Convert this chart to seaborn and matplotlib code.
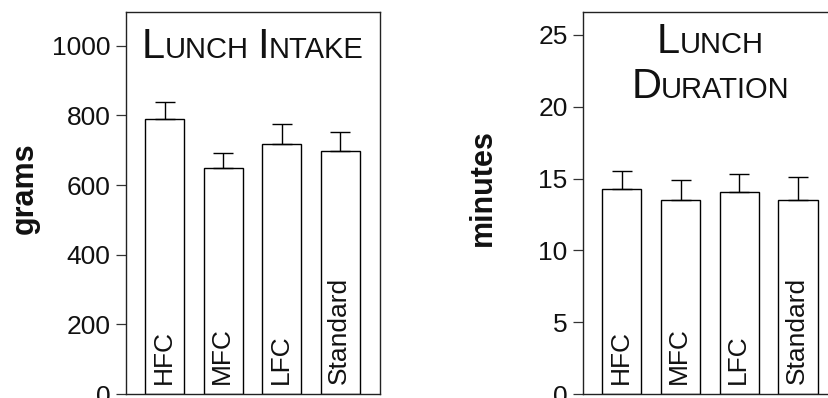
import matplotlib
matplotlib.use("Agg")
import matplotlib.pyplot as plt
import seaborn as sns
import numpy as np
from matplotlib.offsetbox import TextArea, HPacker, VPacker, DrawingArea, AnchoredOffsetbox

# Diet conditions
categories = ["HFC", "MFC", "LFC", "Standard"]

# Lunch intake (grams): mean and SEM
intake_mean = [790, 650, 718, 698]
intake_sem = [48, 42, 57, 55]

# Lunch duration (minutes): mean and SEM
duration_mean = [14.3, 13.5, 14.1, 13.5]
duration_sem = [1.2, 1.4, 1.2, 1.6]

intake_ticks = [0, 200, 400, 600, 800, 1000]
duration_ticks = [0, 5, 10, 15, 20, 25]

sns.set_theme(style="ticks")
plt.rcParams["font.family"] = ["Liberation Sans", "DejaVu Sans"]

FONT = "Liberation Sans"
W, H = 829, 398
fig = plt.figure(figsize=(W / 100, H / 100), dpi=100)
fig.patch.set_facecolor("white")


def small_caps(words, big=30, small=21, gap=6):
    """Build a baseline-aligned row of text in small capitals."""
    parts = []
    for i, w in enumerate(words):
        if i > 0:
            parts.append(DrawingArea(gap, 1))
        parts.append(TextArea(w[0], textprops=dict(fontsize=big, family=FONT, color="#111111")))
        parts.append(TextArea(w[1:], textprops=dict(fontsize=small, family=FONT, color="#111111")))
    return HPacker(children=parts, align="baseline", pad=0, sep=0)


def panel(ax, means, sems, ticks, ymax):
    sns.barplot(x=categories, y=means, color="white", edgecolor="black",
                linewidth=1.0, width=0.67, saturation=1, ax=ax, errorbar=None)
    for p in ax.patches:
        p.set_facecolor("white")
    lower = np.zeros(len(sems))
    ax.errorbar(np.arange(len(categories)), means, yerr=[lower, sems], fmt="none",
                ecolor="black", elinewidth=1.0, capsize=7.5, capthick=1.0)
    for i, c in enumerate(categories):
        ax.text(i - 0.02, ymax * 0.027, c, rotation=90, ha="center", va="bottom",
                fontsize=19, family=FONT, color="#111111")
    ax.set_xlim(-0.66, 3.68)
    ax.set_ylim(0, ymax)
    ax.set_yticks(ticks)
    ax.set_yticklabels([str(t) for t in ticks], fontsize=19, family=FONT, color="#111111")
    ax.set_xticks([])
    ax.tick_params(axis="y", direction="out", length=7.5, width=0.9, pad=3.5, color="#333333")
    for s in ax.spines.values():
        s.set_visible(True)
        s.set_linewidth(1.0)
        s.set_color("#222222")
    ax.set_xlabel("")
    ax.set_ylabel("")


ax1 = fig.add_axes([126 / W, 4 / H, 254 / W, 382 / H])
panel(ax1, intake_mean, intake_sem, intake_ticks, 1097)
t1 = small_caps(["LUNCH", "INTAKE"])
a1 = AnchoredOffsetbox(loc="upper center", child=t1, pad=0, borderpad=0, frameon=False,
                       bbox_to_anchor=(0.5, 0.96), bbox_transform=ax1.transAxes)
ax1.add_artist(a1)

ax2 = fig.add_axes([583 / W, 4 / H, 255 / W, 382 / H])
panel(ax2, duration_mean, duration_sem, duration_ticks, 26.6)
t2 = VPacker(children=[small_caps(["LUNCH"]), small_caps(["DURATION"])],
             align="center", pad=0, sep=4)
a2 = AnchoredOffsetbox(loc="upper center", child=t2, pad=0, borderpad=0, frameon=False,
                       bbox_to_anchor=(0.5, 0.975), bbox_transform=ax2.transAxes)
ax2.add_artist(a2)

fig.text(25 / W, 1 - 188 / H, "grams", rotation=90, ha="center", va="center",
         fontsize=22, fontweight="bold", family=FONT, color="#111111")
fig.text(483 / W, 1 - 188 / H, "minutes", rotation=90, ha="center", va="center",
         fontsize=22, fontweight="bold", family=FONT, color="#111111")

fig.savefig("out.png", dpi=100, facecolor="white")
